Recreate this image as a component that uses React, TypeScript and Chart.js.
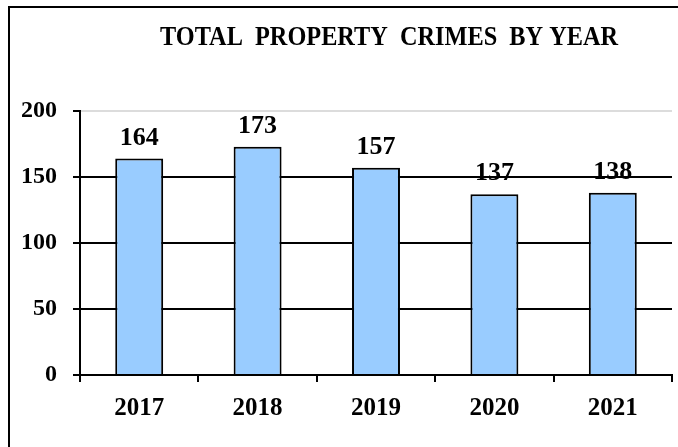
import React, { useEffect, useRef } from "react";
import { Chart, registerables } from "chart.js";

Chart.register(...registerables);

const TITLE = "TOTAL  PROPERTY  CRIMES  BY YEAR";
const categories = ["2017", "2018", "2019", "2020", "2021"];
const values = [164, 173, 157, 137, 138];
const yTicks = [0, 50, 100, 150, 200];

const FONT = "'Liberation Serif', 'Times New Roman', serif";

const framePlugin = {
  id: "frame",
  afterDraw(chart: any) {
    const ctx = chart.ctx;
    ctx.save();
    ctx.strokeStyle = "#000";
    ctx.lineWidth = 2;
    ctx.beginPath();
    ctx.moveTo(9, 447);
    ctx.lineTo(9, 7);
    ctx.lineTo(678, 7);
    ctx.stroke();
    ctx.fillStyle = "#000";
    ctx.font = `bold 27px ${FONT}`;
    ctx.textAlign = "center";
    ctx.textBaseline = "alphabetic";
    ctx.fillText(TITLE, 389, 45, 458);
    const meta = chart.getDatasetMeta(0);
    ctx.font = `bold 26px ${FONT}`;
    meta.data.forEach((bar: any, i: number) => {
      ctx.fillText(String(values[i]), bar.x, bar.y - 14, 39);
    });
    ctx.restore();
  },
};

export default function App() {
  const ref = useRef<HTMLCanvasElement>(null);
  useEffect(() => {
    if (!ref.current) return;
    const chart = new Chart(ref.current, {
      type: "bar",
      data: {
        labels: categories,
        datasets: [
          {
            data: values,
            backgroundColor: "#99CCFF",
            borderColor: "#000",
            borderWidth: 2,
            barPercentage: 0.405,
            categoryPercentage: 1,
          },
        ],
      },
      options: {
        animation: false,
        responsive: false,
        maintainAspectRatio: false,
        devicePixelRatio: 1,
        layout: { padding: { left: 0, right: 6, top: 111, bottom: 0 } },
        plugins: {
          legend: { display: false },
          title: { display: false },
          tooltip: { enabled: false },
        },
        scales: {
          x: {
            offset: true,
            grid: {
              display: true,
              offset: true,
              drawOnChartArea: false,
              drawTicks: true,
              tickLength: 7,
              color: "#000",
              lineWidth: 2,
            },
            border: { display: true, color: "#000", width: 2 },
            ticks: {
              color: "#000",
              font: { family: FONT, size: 25, weight: "bold" },
              padding: 12,
              maxRotation: 0,
            },
            afterFit(scale: any) {
              scale.height = 72;
            },
          },
          y: {
            min: 0,
            max: 200,
            afterBuildTicks(scale: any) {
              scale.ticks = yTicks.map((v) => ({ value: v }));
            },
            grid: {
              color: (c: any) => (c.tick && c.tick.value === 200 ? "#dcdcdc" : "#000"),
              tickColor: "#000",
              lineWidth: 2,
              tickLength: 7,
              drawTicks: true,
            },
            border: { display: true, color: "#000", width: 2 },
            ticks: {
              color: "#000",
              font: { family: FONT, size: 24, weight: "bold" },
              padding: 16,
            },
            afterFit(scale: any) {
              scale.width = 80;
            },
          },
        },
      },
      plugins: [framePlugin],
    });
    return () => chart.destroy();
  }, []);
  return (
    <div style={{ position: "absolute", left: 0, top: 0, width: 678, height: 447, background: "#fff" }}>
      <canvas ref={ref} width={678} height={447} style={{ display: "block", width: 678, height: 447 }} />
    </div>
  );
}
